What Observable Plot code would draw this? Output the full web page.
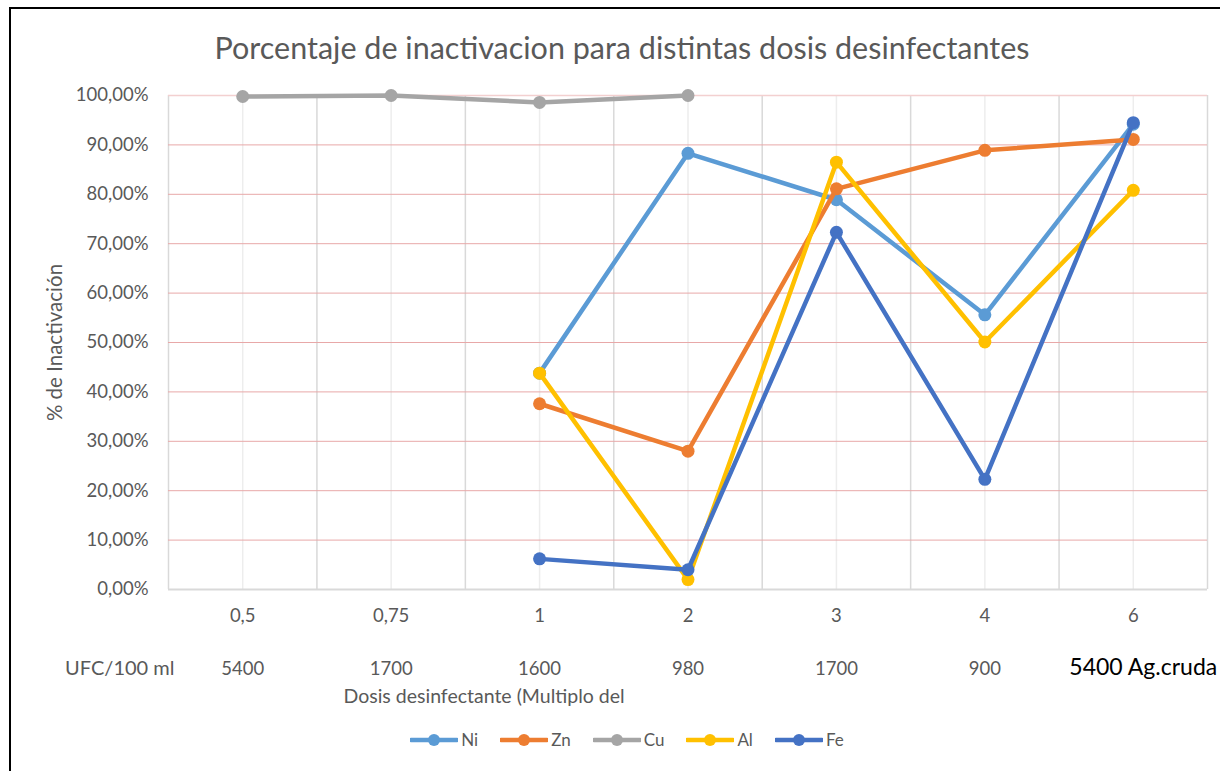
<!DOCTYPE html>
<html>
<head>
<meta charset="utf-8">
<script src="https://cdn.jsdelivr.net/npm/d3@7"></script>
<script src="https://cdn.jsdelivr.net/npm/@observablehq/plot@0.6"></script>
<style>
  html, body { margin: 0; padding: 0; background: #fff; overflow: hidden; }
  #wrap { position: relative; width: 1220px; height: 771px; font-family: Lato, sans-serif; }
  #border { position: absolute; left: 9px; top: 7px; width: 1300px; height: 900px; border: 2px solid #000; pointer-events: none; }
  #title { position: absolute; left: 0; top: 29px; width: 1244px; text-align: center; font-size: 30.5px; color: #595959; }
  #legend { position: absolute; top: 729px; left: 5px; width: 1244px; display: flex; justify-content: center; gap: 22px; font-size: 17px; color: #595959; }
  .item { display: flex; align-items: center; gap: 3px; }
</style>
</head>
<body>
<div id="wrap">
  <div id="chart"></div>
  <div id="title">Porcentaje de inactivacion para distintas dosis desinfectantes</div>
  <div id="legend"></div>
  <div id="border"></div>
</div>
<script>
const categories = ["0,5", "0,75", "1", "2", "3", "4", "6"];
const ufc = ["5400", "1700", "1600", "980", "1700", "900"];
const ufcLast = "5400 Ag.cruda";
const seriesNames = ["Ni", "Zn", "Cu", "Al", "Fe"];
const seriesColors = ["#5B9BD5", "#ED7D31", "#A5A5A5", "#FFC000", "#4472C4"];
const ni = [null, null, 43.8, 88.3, 78.9, 55.6, 94.2];
const zn = [null, null, 37.6, 28.0, 81.1, 88.9, 91.1];
const cu = [99.8, 100.0, 98.6, 100.0, null, null, null];
const al = [null, null, 43.8, 2.0, 86.5, 50.1, 80.8];
const fe = [null, null, 6.2, 4.0, 72.3, 22.3, 94.5];
const yTicks = [0, 10, 20, 30, 40, 50, 60, 70, 80, 90, 100];

const seriesValues = [ni, zn, cu, al, fe];
const rowsFor = (k) => seriesValues[k]
  .map((v, i) => ({series: seriesNames[k], i, v}))
  .filter(d => d.v != null);

const idx = categories.map((_, i) => i);
const halfSteps = d3.range(-0.5, categories.length, 0.5);
const boundaries = halfSteps.filter(v => !Number.isInteger(v));
const centers = idx;
const fmt = v => v.toFixed(2).replace(".", ",") + "%";

const seriesMarks = seriesNames.flatMap((name, k) => [
  Plot.line(rowsFor(k), {x: "i", y: "v", stroke: seriesColors[k], strokeWidth: 4.5, strokeLinejoin: "round", strokeLinecap: "round"}),
  Plot.dot(rowsFor(k), {x: "i", y: "v", fill: seriesColors[k], r: 6.5})
]);

const chart = Plot.plot({
  width: 1220,
  height: 771,
  marginLeft: 168,
  marginRight: 13,
  marginTop: 95,
  marginBottom: 182,
  style: {background: "transparent", fontFamily: "Lato, sans-serif", color: "#595959"},
  x: {domain: [-0.5, categories.length - 0.5]},
  y: {domain: [0, 100]},
  marks: [
    Plot.ruleX(centers, {stroke: "#EDEDED", strokeWidth: 1.5}),
    Plot.ruleX(boundaries, {stroke: "#D9D9D9", strokeWidth: 1.5}),
    Plot.ruleY(yTicks.filter(v => v > 0 && v < 100), {stroke: "#E8A8A8", strokeWidth: 1}),
    Plot.ruleY([100], {stroke: "#F3D0D0", strokeWidth: 1.5}),
    Plot.ruleY([0], {stroke: "#D9D9D9", strokeWidth: 2}),
    Plot.axisY({ticks: yTicks, tickFormat: fmt, tickSize: 0, tickPadding: 20, fontSize: 18.5, label: null}),
    Plot.axisX({ticks: idx, tickFormat: i => categories[i], tickSize: 0, tickPadding: 19, fontSize: 18.5, label: null}),
    Plot.text(ufc, {x: (d, i) => i, frameAnchor: "bottom", dy: 85, fontSize: 18.5, fill: "#595959"}),
    Plot.text([ufcLast], {x: [categories.length - 1], frameAnchor: "bottom", dy: 85, dx: 10, fontSize: 23, fill: "#000"}),
    Plot.text(["UFC/100 ml"], {frameAnchor: "bottom-left", textAnchor: "end", dx: 6, dy: 85, fontSize: 20, fill: "#595959"}),
    Plot.text(["Dosis desinfectante (Multiplo del"], {frameAnchor: "bottom-left", textAnchor: "start", dx: 175, dy: 113, fontSize: 19.5, fill: "#595959"}),
    Plot.text(["% de Inactivación"], {frameAnchor: "left", textAnchor: "middle", rotate: -90, dx: -113, fontSize: 20.5, fill: "#595959"}),
    ...seriesMarks
  ]
});
document.getElementById("chart").appendChild(chart);

const legend = document.getElementById("legend");
seriesNames.forEach((name, k) => {
  const item = document.createElement("div");
  item.className = "item";
  item.innerHTML = `<svg width="48" height="14"><line x1="1" y1="7" x2="47" y2="7" stroke="${seriesColors[k]}" stroke-width="4.5" stroke-linecap="round"/><circle cx="24" cy="7" r="6" fill="${seriesColors[k]}"/></svg><span>${name}</span>`;
  legend.appendChild(item);
});
</script>
</body>
</html>
